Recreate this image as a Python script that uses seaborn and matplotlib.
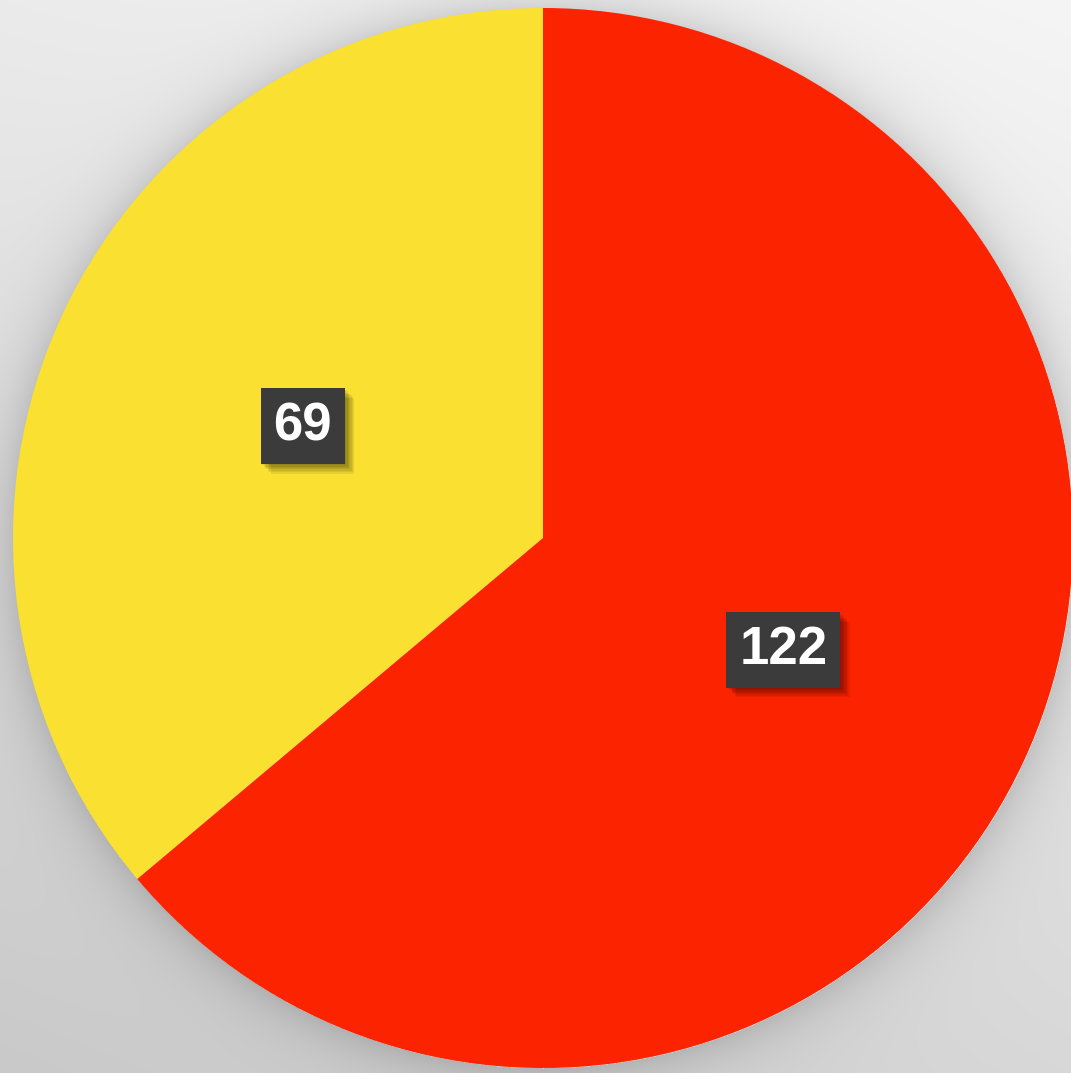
import numpy as np
import matplotlib
matplotlib.use("Agg")
import matplotlib.pyplot as plt
import matplotlib.patheffects as pe
import seaborn as sns

# Data
categories = ["A", "B"]
values = [69, 122]
colors = ["#F9E031", "#FC2300"]

sns.set_style("white")
plt.rcParams["font.family"] = ["Liberation Sans", "DejaVu Sans"]

W, H = 1071, 1073
fig = plt.figure(figsize=(W / 100, H / 100), dpi=100)

# Background gradient with soft shadow ring around the pie
cx, cy, R = 543, 538, 530
yy, xx = np.mgrid[0:H, 0:W]
u = xx / W
w = yy / H
bg = 235 + 10 * u - 34 * w + 5 * u * w
d = np.hypot(xx - cx, yy - cy)
shadow = np.where(d > R, 30 * np.exp(-(d - R) / 26.0), 0)
bg = np.clip(bg - shadow, 0, 255) / 255.0
bgax = fig.add_axes([0, 0, 1, 1])
bgax.imshow(np.dstack([bg, bg, bg]), aspect="auto", extent=[0, 1, 0, 1], origin="upper")
bgax.axis("off")

ax = fig.add_axes([(cx - R) / W, (H - cy - R) / H, 2 * R / W, 2 * R / H])
ax.set_facecolor("none")
wedges, texts = ax.pie(
    values,
    colors=sns.color_palette(colors),
    startangle=90,
    counterclock=True,
    radius=1,
    labels=[str(v) for v in values],
    labeldistance=0.5,
    wedgeprops=dict(linewidth=0),
    textprops=dict(color="white", fontsize=38, fontweight="bold", ha="center", va="center"),
)
shadow_effects = []
for k in range(1, 8):
    shadow_effects.append(
        pe.SimplePatchShadow(offset=(k, -k), shadow_rgbFace="#000000", alpha=0.07)
    )
for t in texts:
    t.set_bbox(dict(boxstyle="square,pad=0.24", fc="#3b3b3b", ec="none"))
    t.get_bbox_patch().set_path_effects(shadow_effects + [pe.Normal()])
ax.set_xlim(-1, 1)
ax.set_ylim(-1, 1)
ax.set_aspect("auto")
ax.axis("off")

fig.savefig("out.png", dpi=100)
